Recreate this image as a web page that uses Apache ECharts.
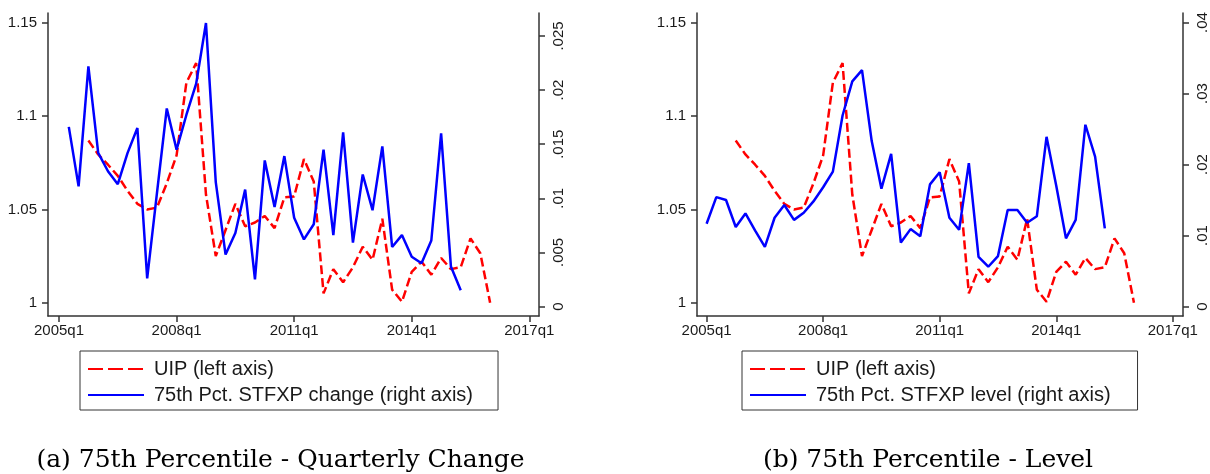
<!DOCTYPE html>
<html>
<head>
<meta charset="utf-8">
<script src="https://cdn.jsdelivr.net/npm/echarts@6/dist/echarts.min.js"></script>
<style>
  html, body { margin: 0; padding: 0; background: #ffffff; }
  #chart { width: 1210px; height: 474px; }
</style>
</head>
<body>
<div id="chart"></div>
<script>
// ---------- data ----------
// quarter labels -> index (2005q1 = 0)
function qIndex(s) { var p = s.split('q'); return (parseInt(p[0], 10) - 2005) * 4 + (parseInt(p[1], 10) - 1); }

var uipName = 'UIP (left axis)';
var changeName = '75th Pct. STFXP change (right axis)';
var levelName = '75th Pct. STFXP level (right axis)';

var uipStart = '2005q4';
var uipValues = [1.087, 1.0795, 1.074, 1.068, 1.060, 1.053, 1.050, 1.051, 1.064, 1.079,
  1.118, 1.1285, 1.058, 1.025, 1.039, 1.053, 1.041, 1.043, 1.0465, 1.040,
  1.0565, 1.057, 1.077, 1.065, 1.005, 1.018, 1.011, 1.019, 1.030, 1.023,
  1.045, 1.007, 1.0005, 1.0165, 1.022, 1.015, 1.024, 1.018, 1.019, 1.0345,
  1.0265, 1.000];

var changeStart = '2005q2';
var changeValues = [0.0166, 0.0111, 0.0222, 0.0142, 0.0125, 0.0113, 0.0142, 0.0165, 0.0026, 0.0105,
  0.0183, 0.0145, 0.0177, 0.0206, 0.0262, 0.0115, 0.0048, 0.0068, 0.0108, 0.0025,
  0.0135, 0.0092, 0.0139, 0.0082, 0.0062, 0.0076, 0.0145, 0.0066, 0.0161, 0.0059,
  0.0122, 0.0089, 0.0148, 0.0055, 0.0066, 0.0046, 0.0040, 0.0061, 0.0160, 0.0037,
  0.0015];

var levelStart = '2005q1';
var levelValues = [0.01165, 0.0154, 0.0150, 0.0112, 0.0131, 0.0107, 0.0084, 0.0125, 0.0143, 0.0122,
  0.0132, 0.0148, 0.0168, 0.0190, 0.0269, 0.0317, 0.0333, 0.0233, 0.0166, 0.0215,
  0.0090, 0.0109, 0.0099, 0.0172, 0.0189, 0.0125, 0.0108, 0.0202, 0.0070, 0.0056,
  0.0071, 0.0136, 0.0136, 0.0118, 0.0127, 0.0239, 0.0170, 0.0096, 0.0122, 0.0256,
  0.0211, 0.0110];

// tick labels
var xTickLabels = ['2005q1', '2008q1', '2011q1', '2014q1', '2017q1'];
var leftTickValues = [1, 1.05, 1.1, 1.15];
var leftTickLabels = ['1', '1.05', '1.1', '1.15'];
var changeTickValues = [0, 0.005, 0.01, 0.015, 0.02, 0.025];
var changeTickLabels = ['0', '.005', '.01', '.015', '.02', '.025'];
var levelTickValues = [0, 0.01, 0.02, 0.03, 0.04];
var levelTickLabels = ['0', '.01', '.02', '.03', '.04'];

var captionA = '(a) 75th Percentile - Quarterly Change';
var captionB = '(b) 75th Percentile - Level';

// ---------- build ----------
var xTickValues = xTickLabels.map(qIndex);
function pairs(start, vals) { var s = qIndex(start); return vals.map(function (v, i) { return [s + i, v]; }); }
function lookup(values, labels) {
  return function (v) {
    for (var i = 0; i < values.length; i++) if (Math.abs(values[i] - v) < 1e-9) return labels[i];
    return '';
  };
}

var AXIS = '#333333';
var TXT = '#1a1a1a';
var SANS = 'Liberation Sans, Arial, sans-serif';
var RED = '#ff0000', BLUE = '#0000ff';

function xAxis(grid, min, max) {
  return {
    gridIndex: grid, type: 'value', min: min, max: max,
    axisLine: { show: true, onZero: false, lineStyle: { color: AXIS, width: 1.5 } },
    axisTick: { show: true, customValues: xTickValues, length: 6, lineStyle: { color: AXIS, width: 1.5 } },
    axisLabel: { customValues: xTickValues, formatter: lookup(xTickValues, xTickLabels), fontFamily: SANS, fontSize: 15, color: TXT, margin: 7 },
    splitLine: { show: false }
  };
}
function yAxis(grid, pos, min, max, vals, labels, rotate) {
  return {
    gridIndex: grid, type: 'value', position: pos, min: min, max: max,
    axisLine: { show: true, onZero: false, lineStyle: { color: AXIS, width: 1.5 } },
    axisTick: { show: true, customValues: vals, length: 6, lineStyle: { color: AXIS, width: 1.5 } },
    axisLabel: { customValues: vals, formatter: lookup(vals, labels), fontFamily: SANS, fontSize: 15, color: TXT,
      margin: rotate ? 12 : 11, rotate: rotate || 0 },
    splitLine: { show: false }
  };
}
function line(name, xi, yi, data, color, dash) {
  return {
    name: name, type: 'line', xAxisIndex: xi, yAxisIndex: yi, data: data,
    symbol: 'none', showSymbol: false, silent: true, animation: false,
    itemStyle: { color: color },
    lineStyle: { color: color, width: 2.5, type: dash || 'solid' },
    z: dash ? 2 : 3
  };
}
function legend(names, left, padRight) {
  return {
    data: [{ name: names[0], lineStyle: { type: [15, 5] } }, { name: names[1] }],
    orient: 'vertical', left: left, top: 351,
    padding: [8, padRight, 5, 7], itemGap: 6, itemWidth: 56, itemHeight: 14,
    borderColor: '#333333', borderWidth: 1, borderRadius: 0,
    selectedMode: false,
    itemStyle: { opacity: 0 },
    textStyle: { fontFamily: SANS, fontSize: 20, color: TXT, lineHeight: 20, padding: [0, 0, 0, 5] }
  };
}

var option = {
  animation: false,
  backgroundColor: '#ffffff',
  grid: [
    { left: 48, top: 13, width: 491, height: 303 },
    { left: 697, top: 13, width: 491, height: 303 }
  ],
  xAxis: [xAxis(0, -1.1227, 48.99), xAxis(1, -0.9885, 49.05)],
  yAxis: [
    yAxis(0, 'left', 0.99287, 1.15536, leftTickValues, leftTickLabels),
    yAxis(0, 'right', -0.000878, 0.027126, changeTickValues, changeTickLabels, 90),
    yAxis(1, 'left', 0.99287, 1.15536, leftTickValues, leftTickLabels),
    yAxis(1, 'right', -0.001338, 0.041338, levelTickValues, levelTickLabels, 90)
  ],
  legend: [legend([uipName, changeName], 80, 25), legend([uipName, levelName], 742, 27)],
  series: [
    line(uipName, 0, 0, pairs(uipStart, uipValues), RED, [9, 4]),
    line(changeName, 0, 1, pairs(changeStart, changeValues), BLUE),
    line(uipName, 1, 2, pairs(uipStart, uipValues), RED, [9, 4]),
    line(levelName, 1, 3, pairs(levelStart, levelValues), BLUE)
  ],
  graphic: [
    { type: 'text', x: 280.5, y: 460, style: { text: captionA, fill: '#000', font: '25px "DejaVu Serif", serif', textAlign: 'center', textVerticalAlign: 'middle' } },
    { type: 'text', x: 928, y: 460, style: { text: captionB, fill: '#000', font: '25px "DejaVu Serif", serif', textAlign: 'center', textVerticalAlign: 'middle' } }
  ]
};

var chart = echarts.init(document.getElementById('chart'), null, { renderer: 'canvas' });
chart.setOption(option);
</script>
</body>
</html>
